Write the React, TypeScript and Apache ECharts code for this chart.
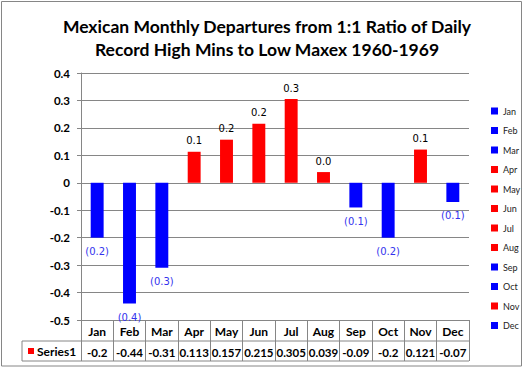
import React, { useEffect, useRef } from "react";
import * as echarts from "echarts";

const titleLines = [
  "Mexican Monthly Departures from 1:1 Ratio of Daily",
  "Record High Mins to Low Maxex 1960-1969",
];
const categories = ["Jan", "Feb", "Mar", "Apr", "May", "Jun", "Jul", "Aug", "Sep", "Oct", "Nov", "Dec"];
const values = [-0.2, -0.44, -0.31, 0.113, 0.157, 0.215, 0.305, 0.039, -0.09, -0.2, 0.121, -0.07];
const seriesName = "Series1";
const yMin = -0.5;
const yMax = 0.4;
const yStep = 0.1;

const RED = "#ff0000";
const BLUE = "#0000ff";
const GRAY = "#868686";

export default function App() {
  const ref = useRef<HTMLDivElement>(null);
  useEffect(() => {
    document.body.style.margin = "0";
    if (!ref.current) return;
    const chart = echarts.init(ref.current, null, { renderer: "svg" });
    const gl = 81, gr = 469, gt = 73, gb = 320;
    const series = categories.map((name, i) => {
      const v = values[i];
      const pos = v >= 0;
      return {
        name,
        type: "bar",
        stack: "all",
        barWidth: "40%",
        data: categories.map((_, j) => (j === i ? v : "-")),
        itemStyle: { color: pos ? RED : BLUE },
        label: {
          show: true,
          position: pos ? "top" : "bottom",
          distance: pos ? 6 : 9,
          color: pos ? "#000000" : "#3333ee",
          fontFamily: "DejaVu Sans",
          fontSize: 10,
          formatter: () => (pos ? v.toFixed(1) : "(" + Math.abs(v).toFixed(1) + ")"),
        },
      };
    });
    chart.setOption({
      animation: false,
      backgroundColor: "#ffffff",
      title: {
        text: titleLines.join("\n"),
        left: 262,
        top: 10,
        textAlign: "center",
        textStyle: { fontFamily: "Lato", fontWeight: "bold", fontSize: 17.5, lineHeight: 23, color: "#000" },
      },
      legend: {
        orient: "vertical",
        left: 486,
        top: 101,
        icon: "rect",
        itemWidth: 7,
        itemHeight: 7,
        itemGap: 9.5,
        data: categories,
        selectedMode: false,
        textStyle: { fontFamily: "Lato", fontSize: 9, lineHeight: 10, color: "#222" },
      },
      grid: { left: gl, right: 527 - gr, top: gt, bottom: 368 - gb },
      xAxis: [
        {
          type: "category",
          data: categories,
          position: "bottom",
          axisLine: { onZero: false, lineStyle: { color: GRAY } },
          axisTick: { show: true, length: 41, interval: 0, lineStyle: { color: GRAY } },
          axisLabel: { interval: 0, fontFamily: "Lato", fontWeight: "bold", fontSize: 12, color: "#000", margin: 5 },
        },
        {
          type: "category",
          data: categories,
          position: "bottom",
          offset: 21,
          axisLine: { show: false },
          axisTick: { show: false },
          axisLabel: {
            interval: 0,
            hideOverlap: false,
            fontFamily: "Lato",
            fontWeight: "bold",
            fontSize: 11.5,
            color: "#000",
            margin: 5,
            formatter: (_: string, idx: number) => String(values[idx]),
          },
        },
      ],
      yAxis: {
        type: "value",
        min: yMin,
        max: yMax,
        interval: yStep,
        axisLine: { show: true, lineStyle: { color: GRAY } },
        axisTick: { show: true, length: 4, lineStyle: { color: GRAY } },
        splitLine: { lineStyle: { color: GRAY } },
        axisLabel: { fontFamily: "Lato", fontWeight: "bold", fontSize: 11.5, color: "#000", margin: 11 },
      },
      series,
      graphic: [
        { type: "rect", shape: { x: 1.5, y: 1.5, width: 520, height: 364.5 }, style: { fill: "none", stroke: GRAY, lineWidth: 1 }, silent: true },
        { type: "line", shape: { x1: 22, y1: 341, x2: gr, y2: 341 }, style: { stroke: GRAY, lineWidth: 1 } },
        { type: "line", shape: { x1: 22, y1: 361, x2: gr, y2: 361 }, style: { stroke: GRAY, lineWidth: 1 } },
        { type: "line", shape: { x1: 22, y1: 341, x2: 22, y2: 361 }, style: { stroke: GRAY, lineWidth: 1 } },
        { type: "rect", shape: { x: 28, y: 348, width: 6, height: 6 }, style: { fill: RED } },
        {
          type: "text",
          x: 37,
          y: 351,
          style: { text: seriesName, fontFamily: "Lato", fontWeight: "bold", fontSize: 12, fill: "#000", verticalAlign: "middle" },
        },
      ],
    });
    return () => chart.dispose();
  }, []);
  return <div ref={ref} style={{ position: "absolute", left: 0, top: 0, width: 527, height: 368 }} />;
}
